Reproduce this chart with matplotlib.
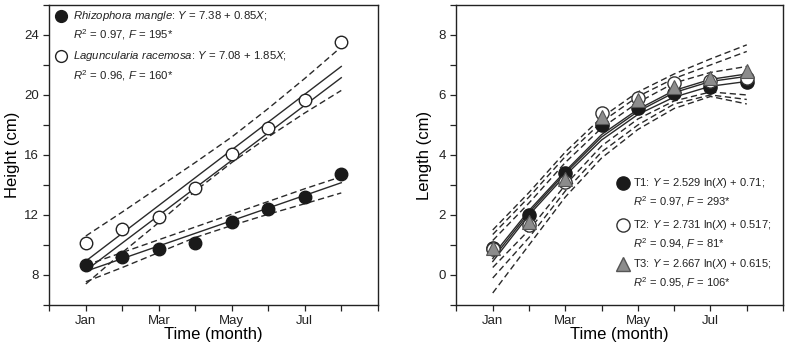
import matplotlib
matplotlib.use("Agg")
import matplotlib.pyplot as plt

plt.rcParams["font.family"] = ["Liberation Sans", "DejaVu Sans"]
plt.rcParams["mathtext.fontset"] = "custom"
plt.rcParams["mathtext.rm"] = "Liberation Sans"
plt.rcParams["mathtext.it"] = "Liberation Sans:italic"
plt.rcParams["text.color"] = "#222222"
plt.rcParams["xtick.labelcolor"] = "#222222"
plt.rcParams["ytick.labelcolor"] = "#222222"

months = [1, 2, 3, 4, 5, 6, 7, 8]
month_ticks = [0, 1, 2, 3, 4, 5, 6, 7, 8, 9]
month_labels = ["", "Jan", "", "Mar", "", "May", "", "Jul", "", ""]

# left panel: height
rhizophora = [8.67, 9.22, 9.7, 10.15, 11.5, 12.4, 13.2, 14.73]
laguncularia = [10.1, 11.05, 11.85, 13.8, 16.05, 17.8, 19.67, 23.5]
line_ends = [1, 8]
rhizo_fit = [8.25, 14.15]
lagun_fit = [8.93, 21.9]
lagun_fit2 = [8.3, 21.15]
rhizo_upper = [8.65, 9.5, 10.35, 11.2, 12.05, 12.9, 13.75, 14.55]
rhizo_lower = [7.55, 8.5, 9.5, 10.5, 11.3, 12.05, 12.75, 13.47]
lagun_upper = [10.6, 12.2, 13.85, 15.5, 17.2, 19.1, 21.1, 23.2]
lagun_lower = [7.4, 9.5, 11.5, 13.6, 15.5, 17.2, 18.8, 20.3]

# right panel: length
t1 = [0.9, 2.0, 3.39, 5.0, 5.56, 6.06, 6.28, 6.44]
t2 = [0.85, 1.67, 3.11, 5.39, 5.89, 6.39, 6.45, 6.58]
t3 = [0.89, 1.78, 3.19, 5.28, 5.83, 6.28, 6.55, 6.8]
t1_fit = [0.45, 2.0, 3.32, 4.5, 5.35, 5.93, 6.29, 6.45]
t2_fit = [0.55, 2.08, 3.4, 4.6, 5.45, 6.08, 6.45, 6.62]
t3_fit = [0.65, 2.15, 3.46, 4.68, 5.52, 6.15, 6.52, 6.7]
bands_upper = [
    [1.5, 2.75, 4.1, 5.25, 6.1, 6.7, 7.2, 7.67],
    [1.35, 2.6, 3.95, 5.1, 5.95, 6.55, 7.0, 7.45],
    [1.15, 2.4, 3.75, 4.9, 5.75, 6.4, 6.75, 6.95],
]
bands_lower = [
    [0.25, 1.5, 3.0, 4.3, 5.2, 5.8, 6.1, 6.0],
    [-0.1, 1.25, 2.8, 4.1, 5.0, 5.7, 6.0, 5.85],
    [-0.6, 1.0, 2.6, 3.9, 4.85, 5.55, 5.95, 5.7],
]

fig = plt.figure(figsize=(7.87, 3.53), dpi=100)
ax1 = fig.add_axes([0.0627, 0.136, 0.4173, 0.85])
ax2 = fig.add_axes([0.580, 0.136, 0.415, 0.85])

dash = dict(color="#2a2a2a", lw=1.0, linestyle=(0, (4.5, 2.6)))
solid = dict(color="#2a2a2a", lw=1.0)
fs_leg = 8.2

# left
ax1.plot(months, rhizo_upper, **dash)
ax1.plot(months, rhizo_lower, **dash)
ax1.plot(months, lagun_upper, **dash)
ax1.plot(months, lagun_lower, **dash)
ax1.plot(line_ends, rhizo_fit, **solid)
ax1.plot(line_ends, lagun_fit, **solid)
ax1.plot(line_ends, lagun_fit2, **solid)
ax1.plot(months, rhizophora, "o", ms=9, mfc="#1a1a1a", mec="#1a1a1a", zorder=5)
ax1.plot(months, laguncularia, "o", ms=9, mfc="white", mec="#222222", mew=1.0, zorder=5)

ax1.set_xlim(0, 9)
ax1.set_ylim(6, 26)
ax1.set_yticks(range(6, 27, 2))
ax1.set_yticklabels(["" if v % 4 else str(v) for v in range(6, 27, 2)])
ax1.set_ylabel("Height (cm)", fontsize=12, labelpad=3)

ax1.plot(0.037, 0.962, "o", ms=8.5, mfc="#1a1a1a", mec="#1a1a1a", transform=ax1.transAxes, clip_on=False)
ax1.text(0.072, 0.962, r"$\it{Rhizophora\ mangle}$: $\it{Y}$ = 7.38 + 0.85$\it{X}$;",
         transform=ax1.transAxes, fontsize=fs_leg, va="center")
ax1.text(0.072, 0.9, r"$\it{R}^2$ = 0.97, $\it{F}$ = 195*",
         transform=ax1.transAxes, fontsize=fs_leg, va="center")
ax1.plot(0.037, 0.829, "o", ms=8.5, mfc="white", mec="#222222", mew=1.0, transform=ax1.transAxes, clip_on=False)
ax1.text(0.072, 0.829, r"$\it{Laguncularia\ racemosa}$: $\it{Y}$ = 7.08 + 1.85$\it{X}$;",
         transform=ax1.transAxes, fontsize=fs_leg, va="center")
ax1.text(0.072, 0.763, r"$\it{R}^2$ = 0.96, $\it{F}$ = 160*",
         transform=ax1.transAxes, fontsize=fs_leg, va="center")

# right
for b in bands_upper + bands_lower:
    ax2.plot(months, b, **dash)
ax2.plot(months, t1_fit, **solid)
ax2.plot(months, t2_fit, **solid)
ax2.plot(months, t3_fit, **solid)
ax2.plot(months, t1, "o", ms=9.5, mfc="#1a1a1a", mec="#1a1a1a", zorder=5)
ax2.plot(months, t2, "o", ms=9.5, mfc="white", mec="#333333", mew=1.0, zorder=6)
ax2.plot(months, t3, "^", ms=9.5, mfc="#8c8c8c", mec="#555555", mew=0.8, zorder=7)

ax2.set_xlim(0, 9)
ax2.set_ylim(-1, 9)
ax2.set_yticks(range(-1, 10))
ax2.set_yticklabels(["" if v % 2 else str(v) for v in range(-1, 10)])
ax2.set_ylabel("Length (cm)", fontsize=12, labelpad=5)

legend_rows = [
    ("o", "#1a1a1a", "#1a1a1a", r"T1: $\it{Y}$ = 2.529 ln($\it{X}$) + 0.71;", r"$\it{R}^2$ = 0.97, $\it{F}$ = 293*"),
    ("o", "white", "#333333", r"T2: $\it{Y}$ = 2.731 ln($\it{X}$) + 0.517;", r"$\it{R}^2$ = 0.94, $\it{F}$ = 81*"),
    ("^", "#8c8c8c", "#555555", r"T3: $\it{Y}$ = 2.667 ln($\it{X}$) + 0.615;", r"$\it{R}^2$ = 0.95, $\it{F}$ = 106*"),
]
row_y = [0.408, 0.267, 0.137]
for (mk, fc, ec, l1, l2), y in zip(legend_rows, row_y):
    ax2.plot(0.51, y, mk, ms=9.5, mfc=fc, mec=ec, mew=1.0, transform=ax2.transAxes)
    ax2.text(0.541, y, l1, transform=ax2.transAxes, fontsize=8, va="center")
    ax2.text(0.541, y - 0.062, l2, transform=ax2.transAxes, fontsize=8, va="center")

for ax in (ax1, ax2):
    ax.set_xticks(month_ticks)
    ax.set_xticklabels(month_labels)
    ax.set_xlabel("Time (month)", fontsize=12, labelpad=0)
    ax.tick_params(direction="out", length=4.5, width=0.9, labelsize=9.5, pad=3, color="#222222")
    for s in ax.spines.values():
        s.set_linewidth(1.0)
        s.set_color("#222222")

fig.savefig("out.png", dpi=100)
